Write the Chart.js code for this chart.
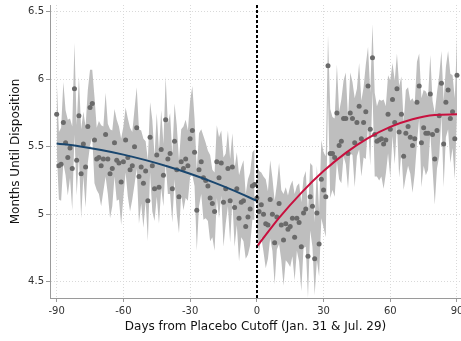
<!DOCTYPE html>
<html>
<head>
<meta charset="utf-8">
<script src="https://cdn.jsdelivr.net/npm/chart.js@4"></script>
<style>
  html, body { margin: 0; padding: 0; background: #fff; overflow: hidden; }
  #wrap { width: 461px; height: 341px; }
</style>
</head>
<body>
<div id="wrap"><canvas id="chart" width="461" height="341"></canvas></div>
<script>
const xTicks = [-90, -60, -30, 0, 30, 60, 90];
const yTicks = [4.5, 5, 5.5, 6, 6.5];
const cutoff = 0;
const firstLeftDay = -90;
const firstRightDay = 0;

// daily means before the cutoff (days -90 .. -1)
const leftMeans = [
  5.74, 5.36, 5.37, 5.68, 5.53, 5.42, 5.49, 5.34, 5.93, 5.40,
  5.73, 5.30, 5.52, 5.35, 5.65, 5.79, 5.82, 5.55, 5.41, 5.42,
  5.36, 5.41, 5.59, 5.41, 5.30, 5.34, 5.53, 5.40, 5.38, 5.24,
  5.39, 5.55, 5.42, 5.33, 5.36, 5.50, 5.64, 5.28, 5.35, 5.23,
  5.32, 5.10, 5.57, 5.36, 5.19, 5.44, 5.20, 5.48, 5.29, 5.70,
  5.41, 5.45, 5.19, 5.54, 5.33, 5.13, 5.39, 5.34, 5.41, 5.36,
  5.56, 5.62, 5.46, 5.03, 5.33, 5.39, 5.27, 5.25, 5.21, 5.12,
  5.08, 5.02, 5.39, 5.27, 5.38, 5.09, 5.19, 5.34, 5.10, 5.35,
  5.05, 5.19, 4.97, 5.09, 5.10, 4.91, 4.98, 5.04, 5.21, 5.22
];
// daily means after the cutoff (days 0 .. 90)
const rightMeans = [
  5.12, 5.02, 5.07, 5.00, 4.93, 4.92, 5.11, 5.00, 4.79, 4.98,
  5.08, 4.92, 4.81, 4.93, 4.89, 4.91, 4.97, 4.83, 4.97, 4.94,
  4.76, 5.01, 5.04, 4.69, 5.13, 5.06, 4.67, 5.01, 4.78, 5.26,
  5.18, 5.13, 6.10, 5.45, 5.45, 5.42, 5.75, 5.51, 5.54, 5.71,
  5.71, 5.45, 5.75, 5.71, 5.53, 5.68, 5.80, 5.56, 5.68, 5.76,
  5.95, 5.63, 6.16, 5.59, 5.54, 5.55, 5.56, 5.52, 5.55, 5.74,
  5.63, 5.85, 5.68, 5.93, 5.61, 5.74, 5.43, 5.60, 5.65, 5.57,
  5.51, 5.56, 5.83, 5.95, 5.53, 5.64, 5.60, 5.60, 5.89, 5.59,
  5.41, 5.62, 5.73, 5.97, 5.52, 5.83, 5.92, 5.71, 5.76, 5.56,
  6.03
];
// half width of the confidence band, per day
const leftHalfWidth = [
  0.26, 0.25, 0.27, 0.30, 0.24, 0.28, 0.22, 0.31, 0.34, 0.26,
  0.29, 0.33, 0.24, 0.30, 0.27, 0.28, 0.25, 0.32, 0.23, 0.27,
  0.30, 0.24, 0.31, 0.26, 0.33, 0.28, 0.25, 0.30, 0.27, 0.32,
  0.26, 0.24, 0.29, 0.31, 0.25, 0.28, 0.30, 0.35, 0.27, 0.33,
  0.22, 0.30, 0.26, 0.34, 0.24, 0.31, 0.27, 0.29, 0.23, 0.32,
  0.26, 0.30, 0.25, 0.28, 0.33, 0.27, 0.24, 0.31, 0.29, 0.26,
  0.28, 0.33, 0.25, 0.30, 0.27, 0.24, 0.31, 0.28, 0.26, 0.32,
  0.25, 0.29, 0.27, 0.30, 0.24, 0.33, 0.26, 0.28, 0.31, 0.25,
  0.29, 0.27, 0.32, 0.26, 0.30, 0.24, 0.28, 0.27, 0.25, 0.26
];
const rightHalfWidth = [
  0.26, 0.30, 0.24, 0.28, 0.33, 0.25, 0.29, 0.27, 0.31, 0.24,
  0.30, 0.26, 0.34, 0.27, 0.25, 0.30, 0.28, 0.32, 0.24, 0.29,
  0.33, 0.26, 0.28, 0.31, 0.25, 0.30, 0.27, 0.35, 0.24, 0.29,
  0.28, 0.30, 0.23, 0.33, 0.27, 0.29, 0.36, 0.25, 0.31, 0.28,
  0.34, 0.26, 0.30, 0.27, 0.33, 0.25, 0.32, 0.28, 0.26, 0.35,
  0.29, 0.27, 0.25, 0.31, 0.26, 0.30, 0.28, 0.33, 0.25, 0.29,
  0.36, 0.27, 0.31, 0.26, 0.34, 0.28, 0.25, 0.32, 0.29, 0.27,
  0.35, 0.26, 0.30, 0.24, 0.33, 0.28, 0.31, 0.27, 0.29, 0.25,
  0.34, 0.28, 0.30, 0.24, 0.32, 0.26, 0.29, 0.33, 0.27, 0.30,
  0.28
];
// fitted quadratic, read every 10 days
const leftFitDays = [-90, -80, -70, -60, -50, -40, -30, -20, -10, 0];
const leftFit = [5.525, 5.504, 5.476, 5.442, 5.401, 5.354, 5.300, 5.240, 5.173, 5.100];
const rightFitDays = [0, 10, 20, 30, 40, 50, 60, 70, 80, 90];
const rightFit = [4.760, 4.973, 5.159, 5.320, 5.455, 5.564, 5.647, 5.704, 5.735, 5.740];

const toPts = (start, vals) => vals.map((v, i) => ({ x: start + i, y: v }));
const band = (start, vals, hw, sign) => vals.map((v, i) => ({ x: start + i, y: v + sign * hw[i] }));
const fitPts = (days, vals) => days.map((d, i) => ({ x: d, y: vals[i] }));

const axisColor = '#9a9a9a';
const gridColor = '#d9d9d9';
const bandColor = '#bebebe';
const dotColor = '#6a6a6a';

const cutoffLine = {
  id: 'cutoffLine',
  afterDatasetsDraw(chart) {
    const { ctx, chartArea, scales } = chart;
    const x = Math.round(scales.x.getPixelForValue(cutoff));
    ctx.save();
    ctx.strokeStyle = '#000';
    ctx.lineWidth = 2;
    ctx.setLineDash([3, 2]);
    ctx.beginPath();
    ctx.moveTo(x, chartArea.top);
    ctx.lineTo(x, chartArea.bottom);
    ctx.stroke();
    ctx.restore();
  }
};

const bandStyle = {
  type: 'line', borderWidth: 0, borderColor: 'rgba(0,0,0,0)', pointRadius: 0,
  backgroundColor: bandColor, tension: 0
};

new Chart(document.getElementById('chart'), {
  type: 'line',
  data: {
    datasets: [
      { data: fitPts(leftFitDays, leftFit), borderColor: '#1a476f', borderWidth: 2,
        pointRadius: 0, cubicInterpolationMode: 'monotone', fill: false },
      { data: fitPts(rightFitDays, rightFit), borderColor: '#c8103e', borderWidth: 2,
        pointRadius: 0, cubicInterpolationMode: 'monotone', fill: false },
      { data: toPts(firstLeftDay, leftMeans), showLine: false, pointRadius: 2.5,
        pointBackgroundColor: dotColor, pointBorderWidth: 0, fill: false },
      { data: toPts(firstRightDay, rightMeans), showLine: false, pointRadius: 2.5,
        pointBackgroundColor: dotColor, pointBorderWidth: 0, fill: false },
      { ...bandStyle, data: band(firstLeftDay, leftMeans, leftHalfWidth, -1), fill: false },
      { ...bandStyle, data: band(firstLeftDay, leftMeans, leftHalfWidth, 1), fill: '-1' },
      { ...bandStyle, data: band(firstRightDay, rightMeans, rightHalfWidth, -1), fill: false },
      { ...bandStyle, data: band(firstRightDay, rightMeans, rightHalfWidth, 1), fill: '-1' }
    ]
  },
  options: {
    responsive: false,
    animation: false,
    events: [],
    layout: { autoPadding: false, padding: { top: 5, left: 0, right: 0, bottom: 0 } },
    plugins: { legend: { display: false }, tooltip: { enabled: false } },
    scales: {
      x: {
        type: 'linear', min: -93, max: 91.8,
        afterBuildTicks: s => { s.ticks = xTicks.map(v => ({ value: v })); },
        afterFit: s => { s.height = 43; s.paddingLeft = 0; s.paddingRight = 0; },
        ticks: { font: { family: 'DejaVu Sans', size: 10 }, color: '#333', padding: 3, maxRotation: 0,
          callback: v => String(v) },
        grid: { color: gridColor, tickLength: 4, tickColor: axisColor, tickBorderDash: [] },
        border: { display: true, color: axisColor, width: 1, dash: [1, 2] },
        title: { display: true, text: 'Days from Placebo Cutoff (Jan. 31 & Jul. 29)',
          font: { family: 'DejaVu Sans', size: 12 }, color: '#111', padding: { top: 0, bottom: 7 } }
      },
      y: {
        min: 4.38, max: 6.55,
        afterBuildTicks: s => { s.ticks = yTicks.map(v => ({ value: v })); },
        afterFit: s => { s.width = 50; s.paddingTop = 0; s.paddingBottom = 0; },
        ticks: { font: { family: 'DejaVu Sans', size: 10 }, color: '#333', padding: 2,
          callback: v => String(v) },
        grid: { color: gridColor, tickLength: 4, tickColor: axisColor, tickBorderDash: [] },
        border: { display: true, color: axisColor, width: 1, dash: [1, 2] },
        title: { display: true, text: 'Months Until Disposition',
          font: { family: 'DejaVu Sans', size: 12 }, color: '#111', padding: { top: 9, bottom: 0 } }
      }
    }
  },
  plugins: [cutoffLine]
});
</script>
</body>
</html>
